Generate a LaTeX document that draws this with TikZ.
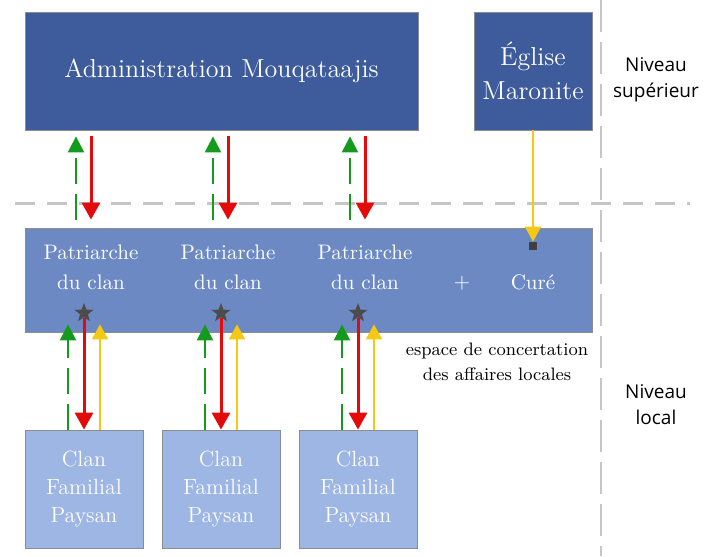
\documentclass[tikz,border=0pt]{standalone}
\usepackage{fontspec}
\newfontfamily\niveaufont{Open Sans}
\usepackage{xcolor}
\usepackage{tikz}
\usetikzlibrary{arrows.meta,positioning,calc,shapes.geometric}
\definecolor{cTop}  {RGB}{62,92,156}
\definecolor{cMid}  {RGB}{108,137,196}
\definecolor{cLow}  {RGB}{158,182,227}
\definecolor{cGreen}{RGB}{20,155,30}
\definecolor{cRed}  {RGB}{228,10,10}
\definecolor{cYell} {RGB}{245,200,20}
\tikzset{
  box/.style={draw=black!45,minimum width=59pt,minimum height=59pt,
              inner sep=1pt,text=white,align=center},
  topbox/.style={box,fill=cTop,font=\fontsize{13}{17}\selectfont},
  midbox/.style={box,fill=cMid,minimum width=283.5pt,minimum height=52pt},
  lowbox/.style={box,fill=cLow,font=\fontsize{11}{14}\selectfont},
  midtext/.style={text=white,align=center,font=\fontsize{10.5}{15}\selectfont},
  lvl/.style={align=center,font=\niveaufont\fontsize{9.5}{13}\selectfont},
  gup/.style={-{Triangle[width=8pt,length=8pt]},cGreen,line width=1.2pt,
              dash pattern=on 13pt off 5pt},
  rdown/.style={-{Triangle[width=9pt,length=8.5pt]},cRed,line width=1.5pt},
  yup/.style={-{Triangle[width=8pt,length=7.5pt]},cYell,line width=1pt},
  sep/.style={gray!45,line width=1.5pt,dash pattern=on 10pt off 6pt},
}

\begin{document}
\begin{tikzpicture}[x=0.5pt,y=-0.5pt]
  \useasboundingbox (0,0) rectangle (715,556);
  % separators between the two levels
  \draw[sep] (15,203)--(690,203);
  \draw[gray!45,line width=1pt,dash pattern=on 16pt off 5pt] (601,0)--(601,556);
  % upper level
  \node[topbox,minimum width=196.5pt] (admin) at (221.5,71) {Administration Mouqataajis};
  \node[topbox] (eglise) at (533,71) {Église\\Maronite};
  \node[lvl] (sup) at (656,80) {Niveau\\supérieur};
  % local space
  \node[midbox] (conc) at (308.5,280) {};
  \node[midtext] (plus) at (462,283) {+};
  \node[midtext] (cure) at (533,282) {Curé};
  \node[fill=black!75,minimum size=4pt,inner sep=0pt] (sq) at (533,246) {};
  \draw[yup] (eglise.south) -- (sq.north);
  \node[align=center,font=\fontsize{9}{12.5}\selectfont] (esp) at (497,362)
    {espace de concertation\\des affaires locales};
  \node[lvl] (loc) at (656,405) {Niveau\\local};
  \foreach \i in {1,2,3}{
    \pgfmathsetmacro\cx{84+137*(\i-1)}
    \node[lowbox] (clan\i) at (\cx,489) {Clan\\Familial\\Paysan};
    \node[midtext] (pat\i) at (\cx+7,267) {Patriarche\\du clan};
    \node[star,star points=5,star point ratio=2.4,fill=black!70,
          minimum size=10pt,inner sep=0pt] (st\i) at (\cx,313) {};
    % between the two levels
    \draw[gup,shorten <=4pt,shorten >=3pt] (conc.north -| {\cx-8},0) -- (admin.south -| {\cx-8},0);
    \draw[rdown,shorten <=3pt,shorten >=4pt] (admin.south -| {\cx+7},0) -- (conc.north -| {\cx+7},0);
    % between clans and the local space
    \draw[gup,shorten >=-4pt] (clan\i.north -| {\cx-16},0) -- (conc.south -| {\cx-16},0);
    \draw[rdown] (st\i.south) -- (clan\i.north);
    \draw[yup,shorten >=-4pt] (clan\i.north -| {\cx+16},0) -- (conc.south -| {\cx+16},0);
  }
\end{tikzpicture}
\end{document}
